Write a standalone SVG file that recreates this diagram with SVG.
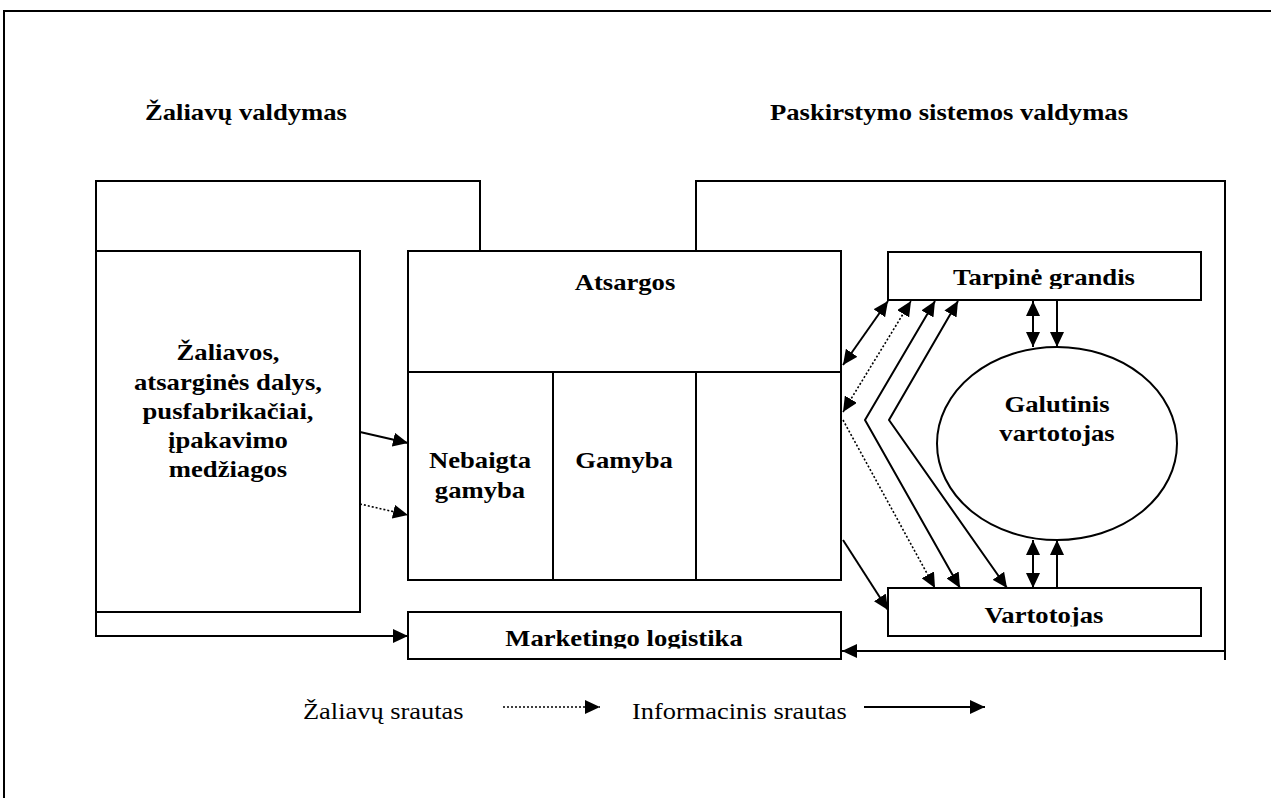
<svg xmlns="http://www.w3.org/2000/svg" width="1271" height="798" viewBox="0 0 1271 798">
  <style>
    .box { fill: #fff; stroke: #000; stroke-width: 2; }
    .ln { fill: none; stroke: #000; stroke-width: 2; }
    .dot { fill: none; stroke: #000; stroke-width: 1.6; stroke-dasharray: 2 2; }
    .hd { font-family: "Liberation Serif", "Times New Roman", serif; font-weight: bold; font-size: 24px; fill: #000; }
    .tx { font-family: "Liberation Serif", "Times New Roman", serif; font-size: 24px; fill: #000; }
    .c { text-anchor: middle; }
  </style>
  <defs>
    <marker id="ah" markerUnits="userSpaceOnUse" markerWidth="16" markerHeight="14" refX="15" refY="7" orient="auto-start-reverse">
      <path d="M0,0 L15,7 L0,14 z" fill="#000"/>
    </marker>
    <clipPath id="clipTarp"><rect x="889" y="253" width="311" height="36"/></clipPath>
    <clipPath id="clipVart"><rect x="889" y="589" width="311" height="37.5"/></clipPath>
    <clipPath id="clipMark"><rect x="409" y="613" width="431" height="35.5"/></clipPath>
  </defs>

  <rect width="1271" height="798" fill="#fff"/>

  <!-- page frame -->
  <path class="ln" d="M4,798 V11 H1271"/>

  <!-- section headings (slightly widened lettering) -->
  <text class="hd" transform="translate(145,120) scale(1.11,1)">Žaliavų valdymas</text>
  <text class="hd" transform="translate(770,120) scale(1.11,1)">Paskirstymo sistemos valdymas</text>

  <g id="zaliavos">
    <rect class="box" x="96" y="251" width="264" height="361"/>
    <text class="hd c" transform="translate(228,360) scale(1.11,1)">Žaliavos,</text>
    <text class="hd c" transform="translate(228,390) scale(1.11,1)">atsarginės dalys,</text>
    <text class="hd c" transform="translate(228,419) scale(1.11,1)">pusfabrikačiai,</text>
    <text class="hd c" transform="translate(228,448) scale(1.11,1)">įpakavimo</text>
    <text class="hd c" transform="translate(228,477) scale(1.11,1)">medžiagos</text>
  </g>

  <g id="atsargos">
    <rect class="box" x="408" y="251" width="433" height="329"/>
    <line class="ln" x1="408" y1="372" x2="841" y2="372"/>
    <line class="ln" x1="553" y1="372" x2="553" y2="580"/>
    <line class="ln" x1="696" y1="372" x2="696" y2="580"/>
    <text class="hd c" transform="translate(625,290) scale(1.11,1)">Atsargos</text>
    <text class="hd c" transform="translate(480,468) scale(1.11,1)">Nebaigta</text>
    <text class="hd c" transform="translate(480,498) scale(1.11,1)">gamyba</text>
    <text class="hd c" transform="translate(624,468) scale(1.11,1)">Gamyba</text>
  </g>

  <g id="marketingo">
    <rect class="box" x="408" y="612" width="433" height="47"/>
    <g clip-path="url(#clipMark)">
      <text class="hd c" transform="translate(624,646) scale(1.11,1)">Marketingo logistika</text>
    </g>
  </g>

  <g id="tarpine">
    <rect class="box" x="888" y="252" width="313" height="48"/>
    <g clip-path="url(#clipTarp)">
      <text class="hd c" transform="translate(1044,285) scale(1.11,1)">Tarpinė grandis</text>
    </g>
  </g>

  <g id="galutinis">
    <ellipse class="box" cx="1057" cy="443.5" rx="120" ry="96.5"/>
    <text class="hd c" transform="translate(1057,412) scale(1.11,1)">Galutinis</text>
    <text class="hd c" transform="translate(1057,441) scale(1.11,1)">vartotojas</text>
  </g>

  <g id="vartotojas">
    <rect class="box" x="888" y="588" width="313" height="48"/>
    <g clip-path="url(#clipVart)">
      <text class="hd c" transform="translate(1044,623) scale(1.11,1)">Vartotojas</text>
    </g>
  </g>

  <g id="connectors">
    <!-- management brackets -->
    <path class="ln" d="M96,251 V181 H480 V251"/>
    <path class="ln" d="M696,251 V181 H1225 V660"/>
    <path class="ln" d="M1225,651 H842" marker-end="url(#ah)"/>
    <path class="ln" d="M96,612 V636 H408" marker-end="url(#ah)"/>

    <!-- inputs into production -->
    <path class="ln" d="M360,432 L408,443" marker-end="url(#ah)"/>
    <path class="dot" d="M360,504 L408,515" marker-end="url(#ah)"/>

    <!-- stock to distribution links -->
    <path class="ln" d="M843,365 L888,301" marker-start="url(#ah)" marker-end="url(#ah)"/>
    <path class="dot" d="M843,412 L911,301" marker-start="url(#ah)" marker-end="url(#ah)"/>
    <path class="dot" d="M843,420 L935,588" marker-end="url(#ah)"/>
    <path class="ln" d="M935,301 L865,420 L960,588" marker-start="url(#ah)" marker-end="url(#ah)"/>
    <path class="ln" d="M958,301 L889,420 L1007,588" marker-start="url(#ah)" marker-end="url(#ah)"/>
    <path class="ln" d="M843,540 L888,610" marker-end="url(#ah)"/>

    <!-- links around the end consumer -->
    <path class="ln" d="M1033,301 V347" marker-start="url(#ah)" marker-end="url(#ah)"/>
    <path class="ln" d="M1057,301 V347" marker-end="url(#ah)"/>
    <path class="ln" d="M1033,540 V588" marker-start="url(#ah)" marker-end="url(#ah)"/>
    <path class="ln" d="M1057,588 V540" marker-end="url(#ah)"/>
  </g>

  <g id="legend">
    <text class="tx" transform="translate(303,719) scale(1.1,1)">Žaliavų srautas</text>
    <path class="dot" d="M503,707 L600,707" marker-end="url(#ah)"/>
    <text class="tx" transform="translate(632,719) scale(1.1,1)">Informacinis srautas</text>
    <path class="ln" d="M864,707 L985,707" marker-end="url(#ah)"/>
  </g>
</svg>
